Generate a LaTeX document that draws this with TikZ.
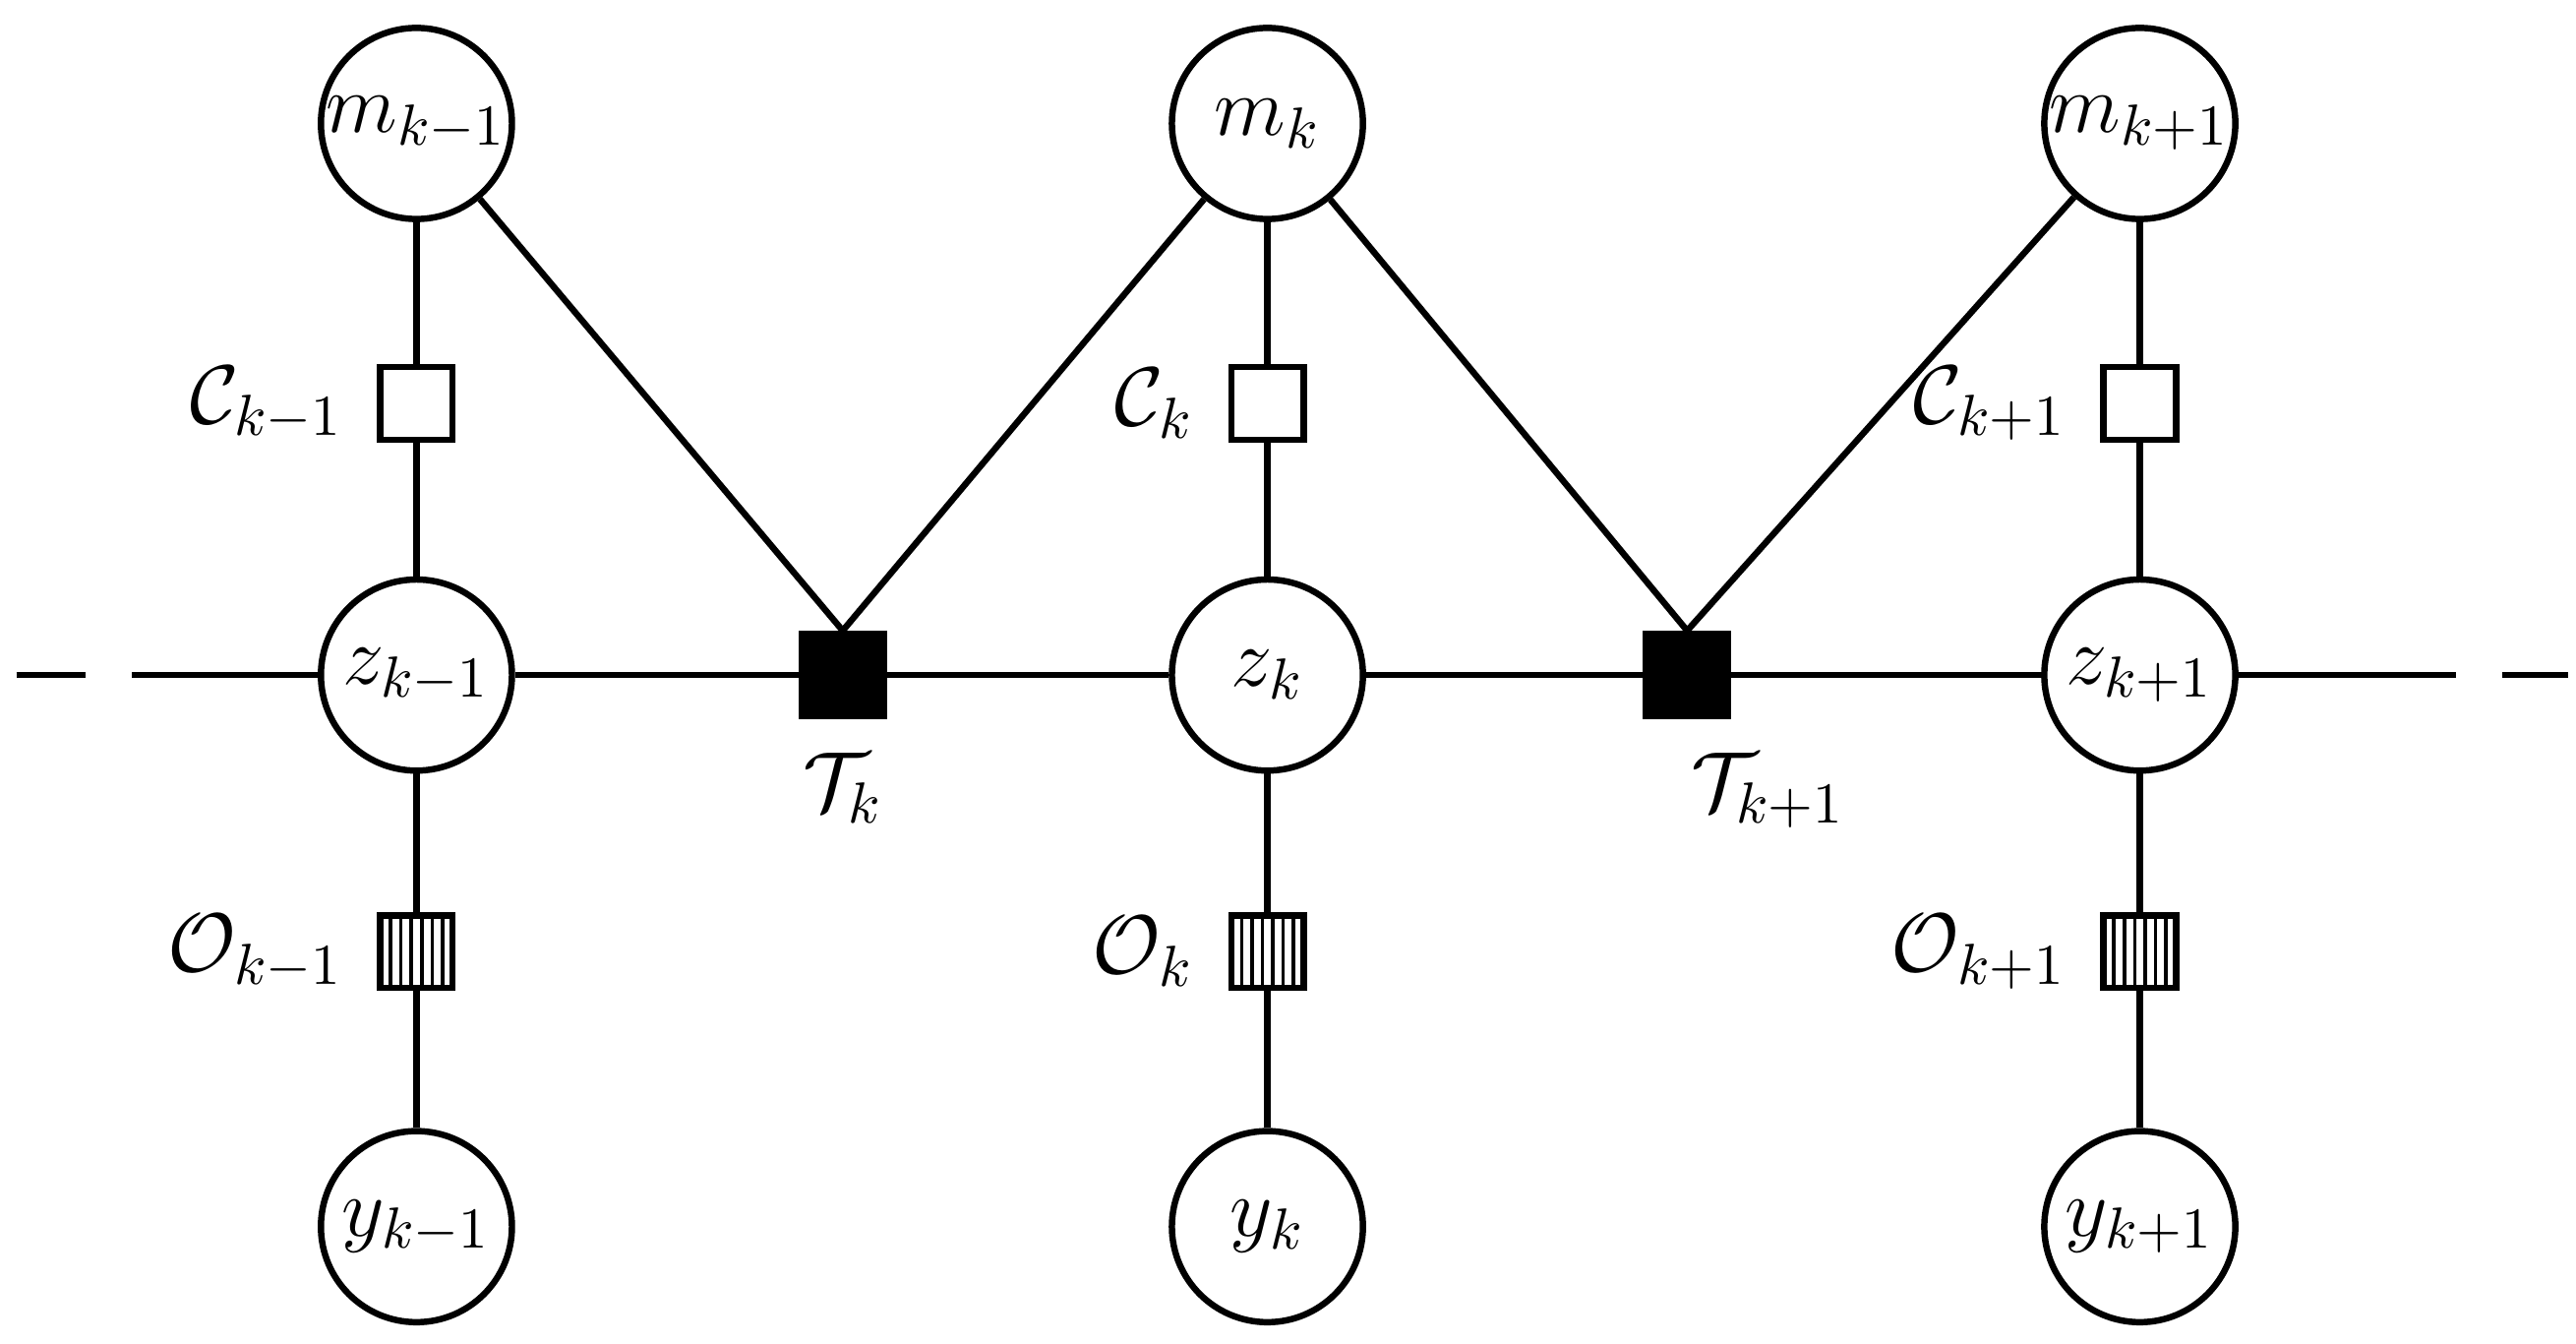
\documentclass[tikz,border=0pt]{standalone}
\begin{document}
\begin{tikzpicture}[x=0.01cm,y=-0.01cm,line width=1.1pt,
 var/.style={circle,draw,minimum size=1.16cm,inner sep=0pt,font=\Large},
 fac/.style={rectangle,draw,fill=white,minimum size=0.44cm,inner sep=0pt},
 tfac/.style={rectangle,draw,fill=black,minimum size=0.5cm,inner sep=0pt},
 ofac/.style={rectangle,draw,fill=white,minimum size=0.44cm,inner sep=0pt,
   path picture={\foreach \i in {1,...,6}{\draw[line width=0.6pt] ([xshift=\i*0.063cm]path picture bounding box.south west) -- ([xshift=\i*0.063cm]path picture bounding box.north west);}}},
 lab/.style={font=\Large}]
\useasboundingbox (0,0) rectangle (1565,816);
\foreach \n/\x/\s in {a/253/{k-1},b/770/{k},c/1300/{k+1}}{
 \node[var] (m\n) at (\x,75) {$m_{\s}$};
 \node[fac] (C\n) at (\x,245) {};
 \node[lab,anchor=east] at ([xshift=-2pt]C\n.west) {$\mathcal{C}_{\s}$};
 \node[var] (z\n) at (\x,410) {$z_{\s}$};
 \node[ofac] (O\n) at (\x,578) {};
 \node[lab,anchor=east] at ([xshift=-2pt]O\n.west) {$\mathcal{O}_{\s}$};
 \node[var] (y\n) at (\x,745) {$y_{\s}$};
 \draw (m\n) -- (C\n) -- (z\n) -- (O\n) -- (y\n);
}
\node[tfac] (T1) at (512,410) {};
\node[tfac] (T2) at (1025,410) {};
\node[lab,below=2pt] at (T1.south) {$\mathcal{T}_{k}$};
\node[lab,below=2pt] at ([xshift=14pt]T2.south) {$\mathcal{T}_{k+1}$};
\coordinate (L0) at (10,410); \coordinate (L1) at (105,410);
\coordinate (R0) at (1450,410); \coordinate (R1) at (1560,410);
\draw[dashed,dash pattern=on 12pt off 8pt] (L0) -- (L1);
\draw (L1) -- (za) -- (T1) -- (zb) -- (T2) -- (zc) -- (R0);
\draw[dashed,dash pattern=on 12pt off 8pt] (R0) -- (R1);
\draw (ma) -- (T1.north) -- (mb) -- (T2.north) -- (mc);
\end{tikzpicture}
\end{document}
